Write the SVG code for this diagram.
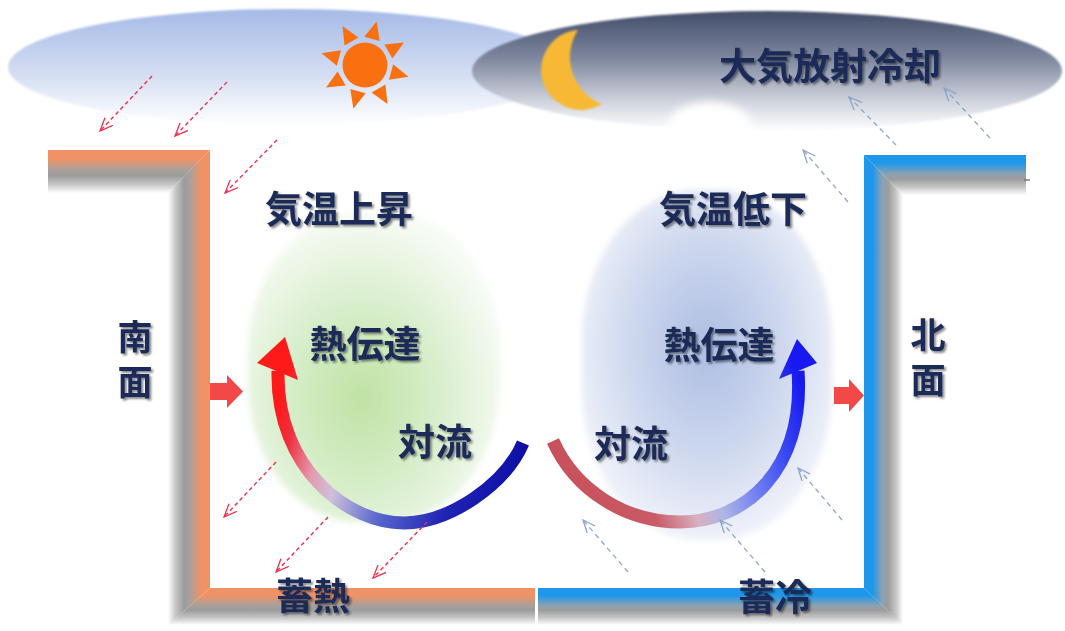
<svg xmlns="http://www.w3.org/2000/svg" width="1065" height="631" viewBox="0 0 1065 631">
  <style>
    .lbl { font-family: "Noto Sans CJK JP", "Noto Sans", sans-serif; font-weight: 700; font-size: 37px; fill: #1b2a58; text-anchor: middle; filter: url(#txtShadow); }
    .vert { writing-mode: vertical-rl; text-orientation: upright; font-size: 35px; letter-spacing: 10px; }
    .dashR { stroke: #f0304c; stroke-width: 1.4; stroke-dasharray: 4 3; fill: none; }
    .dashB { stroke: #8ea4cc; stroke-width: 1.3; stroke-dasharray: 5 4; fill: none; }
    .block { fill: #f24848; }
  </style>
  <defs>
    <filter id="txtShadow" x="-20%" y="-20%" width="150%" height="150%">
      <feDropShadow dx="2" dy="2" stdDeviation="1.3" flood-color="#000" flood-opacity="0.45"/>
    </filter>
    <filter id="soft" x="-10%" y="-10%" width="120%" height="120%">
      <feGaussianBlur stdDeviation="3"/>
    </filter>
    <filter id="blob" x="-40%" y="-60%" width="180%" height="220%">
      <feGaussianBlur stdDeviation="4"/>
    </filter>
    <filter id="edge" x="-10%" y="-10%" width="120%" height="120%">
      <feGaussianBlur stdDeviation="0.8"/>
    </filter>

    <linearGradient id="skyDay" x1="0" y1="0" x2="0" y2="1">
      <stop offset="0" stop-color="#a5bae6"/>
      <stop offset="0.55" stop-color="#d3ddf2"/>
      <stop offset="1" stop-color="#ffffff"/>
    </linearGradient>
    <linearGradient id="skyNight" x1="0" y1="0" x2="0" y2="1">
      <stop offset="0" stop-color="#434d69"/>
      <stop offset="0.4" stop-color="#7f889f"/>
      <stop offset="0.75" stop-color="#cfd3dc"/>
      <stop offset="1" stop-color="#ffffff"/>
    </linearGradient>

    <!-- wall faces: coloured edge fading through grey shadow to white -->
    <linearGradient id="orangeDown" x1="0" y1="0" x2="0" y2="1">
      <stop offset="0" stop-color="#ef9266"/>
      <stop offset="0.2" stop-color="#ef9266"/>
      <stop offset="0.48" stop-color="#a8a09c"/>
      <stop offset="0.6" stop-color="#9c9c9c"/>
      <stop offset="0.8" stop-color="#c6c6c6"/>
      <stop offset="1" stop-color="#ffffff"/>
    </linearGradient>
    <linearGradient id="orangeLeft" x1="1" y1="0" x2="0" y2="0">
      <stop offset="0" stop-color="#ef9266"/>
      <stop offset="0.22" stop-color="#ef9266"/>
      <stop offset="0.48" stop-color="#a8a09c"/>
      <stop offset="0.62" stop-color="#9c9c9c"/>
      <stop offset="0.82" stop-color="#c6c6c6"/>
      <stop offset="1" stop-color="#ffffff"/>
    </linearGradient>
    <linearGradient id="blueDown" x1="0" y1="0" x2="0" y2="1">
      <stop offset="0" stop-color="#1e97ea"/>
      <stop offset="0.2" stop-color="#1e97ea"/>
      <stop offset="0.48" stop-color="#8ea2b2"/>
      <stop offset="0.6" stop-color="#9c9c9c"/>
      <stop offset="0.8" stop-color="#c6c6c6"/>
      <stop offset="1" stop-color="#ffffff"/>
    </linearGradient>
    <linearGradient id="blueRight" x1="0" y1="0" x2="1" y2="0">
      <stop offset="0" stop-color="#1e97ea"/>
      <stop offset="0.22" stop-color="#1e97ea"/>
      <stop offset="0.48" stop-color="#8ea2b2"/>
      <stop offset="0.62" stop-color="#9c9c9c"/>
      <stop offset="0.82" stop-color="#c6c6c6"/>
      <stop offset="1" stop-color="#ffffff"/>
    </linearGradient>

    <radialGradient id="warmGlow" cx="0.45" cy="0.6" r="0.6">
      <stop offset="0" stop-color="#bfe2a4"/>
      <stop offset="0.5" stop-color="#d8eecb"/>
      <stop offset="0.85" stop-color="#eef7e9"/>
      <stop offset="1" stop-color="#f7fbf5"/>
    </radialGradient>
    <radialGradient id="coolGlow" cx="0.5" cy="0.45" r="0.6">
      <stop offset="0" stop-color="#adbde2"/>
      <stop offset="0.5" stop-color="#cdd7ee"/>
      <stop offset="0.85" stop-color="#e9edf7"/>
      <stop offset="1" stop-color="#f6f8fc"/>
    </radialGradient>

    <linearGradient id="arcWarm" gradientUnits="userSpaceOnUse" x1="280" y1="400" x2="523" y2="470">
      <stop offset="0" stop-color="#ff1a1a"/>
      <stop offset="0.08" stop-color="#ee3040"/>
      <stop offset="0.2" stop-color="#e49aae"/>
      <stop offset="0.3" stop-color="#cfc0dc"/>
      <stop offset="0.5" stop-color="#5a68cc"/>
      <stop offset="0.75" stop-color="#2024b4"/>
      <stop offset="1" stop-color="#0d0ea6"/>
    </linearGradient>
    <linearGradient id="arcCool" gradientUnits="userSpaceOnUse" x1="553" y1="470" x2="800" y2="380">
      <stop offset="0" stop-color="#c8505a"/>
      <stop offset="0.3" stop-color="#c95a66"/>
      <stop offset="0.45" stop-color="#d8b0c0"/>
      <stop offset="0.55" stop-color="#b0b6e6"/>
      <stop offset="0.7" stop-color="#7080f0"/>
      <stop offset="0.85" stop-color="#3a48f2"/>
      <stop offset="1" stop-color="#1818f0"/>
    </linearGradient>

    <marker id="headRed" viewBox="0 0 14 12" refX="13" refY="6" markerWidth="14" markerHeight="12" markerUnits="userSpaceOnUse" orient="auto">
      <path d="M0,0.5 L13,6 L0,11.5" fill="none" stroke="#f0304c" stroke-width="1.3"/>
    </marker>
    <marker id="headBlue" viewBox="0 0 14 12" refX="13" refY="6" markerWidth="14" markerHeight="12" markerUnits="userSpaceOnUse" orient="auto">
      <path d="M0,0.5 L13,6 L0,11.5" fill="none" stroke="#8ea4cc" stroke-width="1.3"/>
    </marker>

    <polygon id="ray" points="27,-8 45,0 27,8"/>
  </defs>

  <rect width="1065" height="631" fill="#ffffff"/>

  <!-- skies -->
  <g id="sky-day">
    <ellipse cx="288" cy="67" rx="280" ry="58" fill="url(#skyDay)" filter="url(#edge)"/>
  </g>
  <g id="sun" fill="#f97010">
    <circle cx="365" cy="65" r="22.5"/>
    <g transform="translate(365,65)">
      <use href="#ray" transform="rotate(15)"/>
      <use href="#ray" transform="rotate(60)"/>
      <use href="#ray" transform="rotate(105)"/>
      <use href="#ray" transform="rotate(150)"/>
      <use href="#ray" transform="rotate(195)"/>
      <use href="#ray" transform="rotate(240)"/>
      <use href="#ray" transform="rotate(285)"/>
      <use href="#ray" transform="rotate(330)"/>
    </g>
  </g>
  <g id="sky-night">
    <ellipse cx="767" cy="71" rx="295" ry="60" fill="url(#skyNight)" filter="url(#edge)"/>
    <ellipse cx="710" cy="126" rx="42" ry="24" fill="#ffffff" filter="url(#blob)"/>
    <text class="lbl" x="830" y="80" font-size="38">大気放射冷却</text>
  </g>
  <g id="moon">
    <path d="M578,30 A40,40 0 1 0 602,104 A50,50 0 0 1 578,30 Z" fill="#f7b934" filter="url(#edge)"/>
  </g>

  <!-- warm and cool air zones -->
  <g id="zone-warm">
    <rect x="248" y="212" width="252" height="310" rx="110" ry="140" fill="url(#warmGlow)" filter="url(#soft)"/>
    <text class="lbl" x="339" y="223">気温上昇</text>
    <text class="lbl" x="365" y="358">熱伝達</text>
    <text class="lbl" x="435" y="456">対流</text>
  </g>
  <g id="zone-cool">
    <rect x="582" y="190" width="250" height="350" rx="115" ry="150" fill="url(#coolGlow)" filter="url(#soft)"/>
    <text class="lbl" x="733" y="223">気温低下</text>
    <text class="lbl" x="719" y="359">熱伝達</text>
    <text class="lbl" x="631" y="458">対流</text>
  </g>

  <!-- south wall with storage floor -->
  <g id="south-wall">
    <polygon points="48,150 210,150 168,193 48,193" fill="url(#orangeDown)"/>
    <polygon points="210,150 210,588 168,625 168,193" fill="url(#orangeLeft)"/>
    <polygon points="210,588 535,588 535,625 168,625" fill="url(#orangeDown)"/>
    <text class="lbl vert" x="135" y="364">南面</text>
    <text class="lbl" x="313" y="610">蓄熱</text>
  </g>

  <!-- north wall with storage floor -->
  <g id="north-wall">
    <polygon points="864,155 1026,155 1026,195 903,195" fill="url(#blueDown)"/>
    <polygon points="864,155 903,195 903,625 864,588" fill="url(#blueRight)"/>
    <polygon points="538,588 864,588 903,625 538,625" fill="url(#blueDown)"/>
    <line x1="1024" y1="180" x2="1030" y2="180" stroke="#7a7a7a" stroke-width="1.5"/>
    <text class="lbl vert" x="928" y="362">北面</text>
    <text class="lbl" x="775" y="611">蓄冷</text>
  </g>

  <!-- connectors -->
  <g id="connectors">
    <!-- convection loops -->
    <path d="M523,443 C505,485 450,522 405,523 C350,524 276,470 278,371" fill="none" stroke="url(#arcWarm)" stroke-width="13"/>
    <polygon points="285,337 257,363 298,380" fill="url(#arcWarm)"/>
    <path d="M553,441 C575,490 625,522 680,522 C745,522 805,470 798,371" fill="none" stroke="url(#arcCool)" stroke-width="13"/>
    <polygon points="797,339 779,379 817,363" fill="url(#arcCool)"/>

    <!-- heat given off by the walls -->
    <polygon class="block" points="210,383 227,383 227,375 243,391.5 227,408 227,400 210,400"/>
    <polygon class="block" points="834,387 849,387 849,379 864,395.5 849,412 849,404 834,404"/>

    <!-- solar gain -->
    <line class="dashR" x1="152" y1="76" x2="100" y2="131" marker-end="url(#headRed)"/>
    <line class="dashR" x1="227" y1="82" x2="175" y2="136" marker-end="url(#headRed)"/>
    <line class="dashR" x1="277" y1="140" x2="225" y2="193" marker-end="url(#headRed)"/>
    <line class="dashR" x1="276" y1="462" x2="224" y2="517" marker-end="url(#headRed)"/>
    <line class="dashR" x1="328" y1="517" x2="276" y2="572" marker-end="url(#headRed)"/>
    <line class="dashR" x1="427" y1="522" x2="373" y2="578" marker-end="url(#headRed)"/>

    <!-- radiative cooling -->
    <line class="dashB" x1="896" y1="145" x2="849" y2="97" marker-end="url(#headBlue)"/>
    <line class="dashB" x1="990" y1="138" x2="944" y2="88" marker-end="url(#headBlue)"/>
    <line class="dashB" x1="848" y1="202" x2="803" y2="150" marker-end="url(#headBlue)"/>
    <line class="dashB" x1="842" y1="520" x2="798" y2="468" marker-end="url(#headBlue)"/>
    <line class="dashB" x1="628" y1="572" x2="583" y2="520" marker-end="url(#headBlue)"/>
    <line class="dashB" x1="765" y1="572" x2="720" y2="520" marker-end="url(#headBlue)"/>
  </g>
</svg>
